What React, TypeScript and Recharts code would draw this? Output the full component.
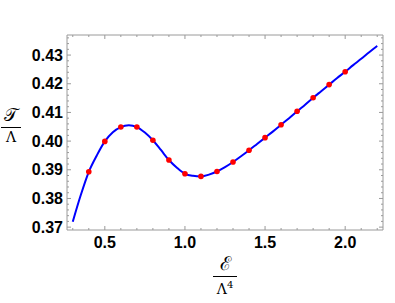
import React from "react";
import { ComposedChart, Line, Scatter, XAxis, YAxis } from "recharts";

// curve
const curveX = [0.3, 0.35, 0.4, 0.45, 0.5, 0.55, 0.6, 0.65, 0.7, 0.75, 0.8, 0.85, 0.9, 0.95, 1.0, 1.05, 1.1, 1.15, 1.2, 1.25, 1.3, 1.35, 1.4, 1.45, 1.5, 1.55, 1.6, 1.65, 1.7, 1.75, 1.8, 1.85, 1.9, 1.95, 2.0, 2.05, 2.1, 2.15, 2.2];
const curveY = [0.3719, 0.3812, 0.3893, 0.395, 0.3999, 0.4031, 0.4049, 0.4055, 0.4049, 0.403, 0.4003, 0.3969, 0.3934, 0.3907, 0.3886, 0.3879, 0.3877, 0.3883, 0.3894, 0.3909, 0.3927, 0.3947, 0.3968, 0.399, 0.4012, 0.4034, 0.4057, 0.408, 0.4104, 0.4127, 0.4151, 0.4174, 0.4197, 0.422, 0.4242, 0.4265, 0.4287, 0.431, 0.4332];

// red sample points
const dotX = [0.4, 0.5, 0.6, 0.7, 0.8, 0.9, 1.0, 1.1, 1.2, 1.3, 1.4, 1.5, 1.6, 1.7, 1.8, 1.9, 2.0];
const dotY = [0.3893, 0.3999, 0.4049, 0.4049, 0.4003, 0.3934, 0.3886, 0.3877, 0.3894, 0.3927, 0.3968, 0.4012, 0.4057, 0.4104, 0.4151, 0.4197, 0.4242];

const xMajor = [0.5, 1.0, 1.5, 2.0];
const xTicks = [0.3, 0.4, 0.5, 0.6, 0.7, 0.8, 0.9, 1.0, 1.1, 1.2, 1.3, 1.4, 1.5, 1.6, 1.7, 1.8, 1.9, 2.0, 2.1, 2.2];
const yMajor = [0.37, 0.38, 0.39, 0.4, 0.41, 0.42, 0.43];
const yTicks = [0.37, 0.372, 0.374, 0.376, 0.378, 0.38, 0.382, 0.384, 0.386, 0.388, 0.39, 0.392, 0.394, 0.396, 0.398, 0.4, 0.402, 0.404, 0.406, 0.408, 0.41, 0.412, 0.414, 0.416, 0.418, 0.42, 0.422, 0.424, 0.426, 0.428, 0.43, 0.432, 0.434, 0.436];

const curve = curveX.map((x, i) => ({ x, y: curveY[i] }));
const dots = dotX.map((x, i) => ({ x, y: dotY[i] }));

const frame = "#9a9a9a";
const labelFont = "'Liberation Sans', Arial, sans-serif";
const isMajor = (list: number[], v: number) => list.some((m) => Math.abs(m - v) < 1e-6);

function makeXTick(side: "bottom" | "top") {
  return function XTick(props: any) {
    const { x, y, payload } = props;
    const major = isMajor(xMajor, payload.value);
    const len = major ? 4 : 2;
    const dir = side === "bottom" ? -1 : 1;
    return (
      <g>
        <line x1={x} x2={x} y1={y} y2={y + dir * len} stroke={frame} strokeWidth={1} />
        {side === "bottom" && major ? (
          <text x={x} y={y + 18} textAnchor="middle" fontFamily={labelFont} fontWeight="bold" fontSize={16} fill="#000">
            {payload.value.toFixed(1)}
          </text>
        ) : null}
      </g>
    );
  };
}

function makeYTick(side: "left" | "right") {
  return function YTick(props: any) {
    const { x, y, payload } = props;
    const major = isMajor(yMajor, payload.value);
    const len = major ? 4 : 2;
    const dir = side === "left" ? 1 : -1;
    return (
      <g>
        <line x1={x} x2={x + dir * len} y1={y} y2={y} stroke={frame} strokeWidth={1} />
        {side === "left" && major ? (
          <text x={x - 4} y={y + 5.5} textAnchor="end" fontFamily={labelFont} fontWeight="bold" fontSize={16} fill="#000">
            {payload.value.toFixed(2)}
          </text>
        ) : null}
      </g>
    );
  };
}

const mathFont = "'DejaVu Serif', 'Liberation Serif', serif";

export default function App() {
  return (
    <div style={{ position: "absolute", left: 0, top: 0, width: 395, height: 303, background: "#fff" }}>
      <ComposedChart width={395} height={303} margin={{ top: 25, right: 2, left: 7, bottom: 43 }}>
        <XAxis
          xAxisId="b"
          dataKey="x"
          type="number"
          domain={[0.264, 2.236]}
          ticks={xTicks}
          interval={0}
          orientation="bottom"
          height={30}
          tickSize={0}
          tickMargin={0}
          stroke={frame}
          tick={makeXTick("bottom")}
          allowDataOverflow
        />
        <XAxis
          xAxisId="t"
          dataKey="x"
          type="number"
          domain={[0.264, 2.236]}
          ticks={xTicks}
          interval={0}
          orientation="top"
          height={10}
          tickSize={0}
          tickMargin={0}
          stroke={frame}
          tick={makeXTick("top")}
          allowDataOverflow
        />
        <YAxis
          yAxisId="l"
          dataKey="y"
          type="number"
          domain={[0.369, 0.437]}
          ticks={yTicks}
          interval={0}
          orientation="left"
          width={60}
          tickSize={0}
          tickMargin={0}
          stroke={frame}
          tick={makeYTick("left")}
          allowDataOverflow
        />
        <YAxis
          yAxisId="r"
          dataKey="y"
          type="number"
          domain={[0.369, 0.437]}
          ticks={yTicks}
          interval={0}
          orientation="right"
          width={10}
          tickSize={0}
          tickMargin={0}
          stroke={frame}
          tick={makeYTick("right")}
          allowDataOverflow
        />
        <Line
          xAxisId="b"
          yAxisId="l"
          data={curve}
          dataKey="y"
          type="monotone"
          stroke="#0000ff"
          strokeWidth={2}
          dot={false}
          isAnimationActive={false}
        />
        <Scatter
          xAxisId="b"
          yAxisId="l"
          data={dots}
          dataKey="y"
          fill="#ff0000"
          shape={(p: any) => <circle cx={p.cx} cy={p.cy} r={2.8} fill="#ff0000" />}
          isAnimationActive={false}
        />
      </ComposedChart>

      <div style={{ position: "absolute", left: 0, top: 106, width: 22, textAlign: "center", fontFamily: mathFont, lineHeight: 1 }}>
        <div style={{ fontSize: 18, height: 21 }}>𝒯</div>
        <div style={{ borderTop: "1px solid #000", margin: "0 1px" }} />
        <div style={{ fontSize: 14, marginTop: 2 }}>Λ</div>
      </div>

      <div style={{ position: "absolute", left: 212, top: 254, width: 26, textAlign: "center", fontFamily: mathFont, lineHeight: 1 }}>
        <div style={{ fontSize: 19, height: 22 }}>ℰ</div>
        <div style={{ borderTop: "1px solid #000", margin: "0 1px" }} />
        <div style={{ fontSize: 14, marginTop: 3 }}>
          Λ<sup style={{ fontSize: 10 }}>4</sup>
        </div>
      </div>
    </div>
  );
}
